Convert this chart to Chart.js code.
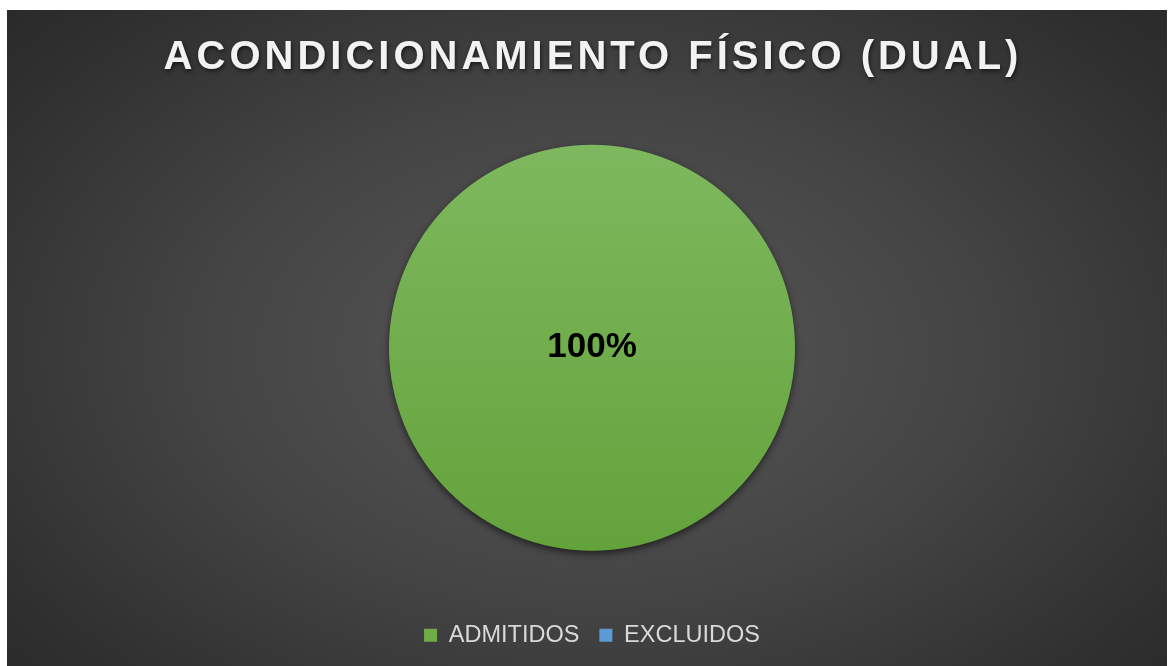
<!DOCTYPE html>
<html>
<head>
<meta charset="utf-8">
<script src="https://cdn.jsdelivr.net/npm/chart.js@4.4.1/dist/chart.umd.min.js"></script>
<style>
  html, body { margin: 0; padding: 0; background: #fff; }
  body { width: 1169px; height: 666px; overflow: hidden; position: relative; }
  .chart-box {
    position: absolute; left: 7px; top: 10px; width: 1160px; height: 656px;
    background: radial-gradient(ellipse 75% 85% at 50.5% 52%, #585858 0%, #444 45%, #2f2f2f 80%, #262626 100%);
  }
</style>
</head>
<body>
<div class="chart-box"><canvas id="pie" width="1160" height="656"></canvas></div>
<script>
const chartTitle = 'ACONDICIONAMIENTO FÍSICO (DUAL)';
const categories = ['ADMITIDOS', 'EXCLUIDOS'];
const percentages = [100, 0];
const legendColors = ['#70ad47', '#5b9bd5'];

// green slice gets a top-to-bottom gradient like the original
const sliceFill = (context) => {
  const area = context.chart.chartArea;
  if (!area || context.dataIndex !== 0) return legendColors[context.dataIndex];
  const g = context.chart.ctx.createLinearGradient(0, area.top, 0, area.bottom);
  g.addColorStop(0, '#82bb63');
  g.addColorStop(1, '#60a037');
  return g;
};

// title drawn by hand so it can have letter spacing and a shadow
const titlePlugin = {
  id: 'spacedTitle',
  afterDraw(chart) {
    const ctx = chart.ctx;
    ctx.save();
    ctx.font = 'bold 40px "Liberation Sans", Arial, sans-serif';
    ctx.letterSpacing = '4px';
    ctx.fillStyle = '#f2f2f2';
    ctx.textAlign = 'center';
    ctx.textBaseline = 'alphabetic';
    ctx.shadowColor = 'rgba(0,0,0,0.6)';
    ctx.shadowBlur = 4;
    ctx.shadowOffsetX = 1;
    ctx.shadowOffsetY = 2;
    ctx.fillText(chartTitle, 586, 59);
    ctx.restore();
  }
};

const shadowPlugin = {
  id: 'pieShadow',
  beforeDatasetsDraw(chart) {
    const ctx = chart.ctx;
    ctx.save();
    ctx.shadowColor = 'rgba(0,0,0,0.55)';
    ctx.shadowBlur = 7;
    ctx.shadowOffsetY = 3;
  },
  afterDatasetsDraw(chart) {
    chart.ctx.restore();
  }
};

const percentLabels = {
  id: 'percentLabels',
  afterDatasetsDraw(chart) {
    const ctx = chart.ctx;
    const meta = chart.getDatasetMeta(0);
    const total = percentages.reduce((a, b) => a + b, 0);
    ctx.save();
    ctx.font = 'bold 35px "Liberation Sans", Arial, sans-serif';
    ctx.fillStyle = '#000';
    ctx.textAlign = 'center';
    ctx.textBaseline = 'middle';
    meta.data.forEach((arc, i) => {
      const v = percentages[i];
      if (!v) return;
      const share = v / total;
      const pos = share >= 0.999 ? arc.getProps(['x', 'y'], true) : arc.tooltipPosition(true);
      ctx.fillText(Math.round(share * 100) + '%', pos.x, pos.y);
    });
    ctx.restore();
  }
};

new Chart(document.getElementById('pie'), {
  type: 'pie',
  data: {
    labels: categories,
    datasets: [{
      data: percentages,
      backgroundColor: sliceFill,
      borderWidth: 0,
      radius: 203
    }]
  },
  options: {
    responsive: false,
    maintainAspectRatio: false,
    animation: false,
    layout: { padding: { top: 82, left: 10, right: 0, bottom: 9 } },
    plugins: {
      title: { display: false },
      tooltip: { enabled: false },
      legend: {
        position: 'bottom',
        labels: {
          color: '#d9d9d9',
          font: { size: 23.5, family: '"Liberation Sans", Arial, sans-serif' },
          boxWidth: 13,
          boxHeight: 13,
          padding: 20,
          generateLabels(chart) {
            return categories.map((c, i) => ({
              text: c,
              fillStyle: legendColors[i],
              strokeStyle: legendColors[i],
              lineWidth: 0,
              hidden: false,
              index: i,
              fontColor: '#d9d9d9'
            }));
          }
        }
      }
    }
  },
  plugins: [shadowPlugin, percentLabels, titlePlugin]
});
</script>
</body>
</html>
